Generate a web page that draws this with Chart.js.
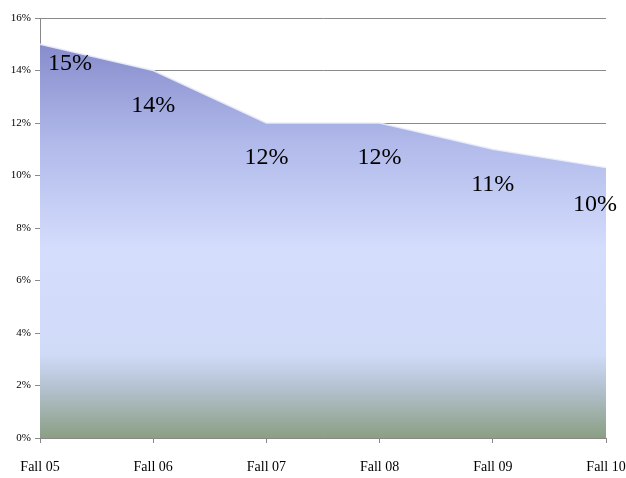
<!DOCTYPE html>
<html>
<head>
<meta charset="utf-8">
<script src="https://cdn.jsdelivr.net/npm/chart.js@4"></script>
<style>
  html, body { margin: 0; padding: 0; background: #fff; }
  #wrap { width: 626px; height: 478px; }
</style>
</head>
<body>
<div id="wrap"><canvas id="rate-chart"></canvas></div>
<script>
var categories = ["Fall 05", "Fall 06", "Fall 07", "Fall 08", "Fall 09", "Fall 10"];
var rates = [15, 14, 12, 12, 11, 10.3];
var rateLabels = ["15%", "14%", "12%", "12%", "11%", "10%"];
var yTicks = [0, 2, 4, 6, 8, 10, 12, 14, 16];

// area fill: purple-blue top, pale blue middle, greenish at bottom
function areaFill(ctx) {
    var area = ctx.chart.chartArea;
    if (!area) return '#c8d2f5';
    var g = ctx.chart.ctx.createLinearGradient(0, area.top, 0, area.bottom);
    g.addColorStop(0.00, '#7e82c3');
    g.addColorStop(0.07, '#888ecd');
    g.addColorStop(0.30, '#b1baea');
    g.addColorStop(0.55, '#d4ddfc');
    g.addColorStop(0.80, '#d0dbf8');
    g.addColorStop(0.87, '#b7c5d6');
    g.addColorStop(1.00, '#8b9f84');
    return g;
}

// data labels drawn below each point
var pointLabels = {
    id: 'pointLabels',
    afterDatasetsDraw: function(chart) {
        var c = chart.ctx;
        var pts = chart.getDatasetMeta(0).data;
        c.save();
        c.font = '24px "Liberation Serif", "DejaVu Serif", serif';
        c.fillStyle = '#000';
        c.textBaseline = 'middle';
        pts.forEach(function(p, i) {
            var x = p.x, y = p.y + 35;
            c.textAlign = 'center';
            if (i === 0) { c.textAlign = 'left'; x = p.x + 8; y = p.y + 19; }
            if (i === pts.length - 1) { x = p.x - 11; y = p.y + 37; }
            c.fillText(rateLabels[i], x, y);
        });
        c.restore();
    }
};

var rc = document.getElementById("rate-chart").getContext('2d');
var rateChart = new Chart(rc, {
    type: 'line',
    data: {
        labels: categories,
        datasets: [{
            data: rates,
            fill: 'origin',
            backgroundColor: areaFill,
            borderColor: 'rgba(235,237,250,0.9)',
            borderWidth: 1.5,
            tension: 0,
            pointRadius: 0
        }]
    },
    options: {
        responsive: true,
        maintainAspectRatio: false,
        animation: false,
        layout: { padding: { top: 18, right: 0, left: 0, bottom: 0 } },
        plugins: {
            legend: { display: false },
            tooltip: { enabled: false }
        },
        scales: {
            x: {
                offset: false,
                grid: { drawOnChartArea: false, drawTicks: true, tickLength: 5, color: '#888' },
                border: { color: '#888' },
                ticks: {
                    padding: 16,
                    maxRotation: 0,
                    autoSkip: false,
                    color: '#000',
                    font: { family: '"Liberation Serif", serif', size: 14 }
                },
                afterFit: function(s) { s.height = 40; s.paddingRight = 20; s.paddingLeft = 0; }
            },
            y: {
                min: 0,
                max: 16,
                afterBuildTicks: function(s) {
                    s.ticks = yTicks.map(function(v) { return { value: v }; });
                },
                grid: { color: '#8a8a8a', tickLength: 5 },
                border: { color: '#888' },
                ticks: {
                    padding: 4,
                    color: '#000',
                    font: { family: '"Liberation Serif", serif', size: 11 },
                    callback: function(v) { return v + '%'; }
                },
                afterFit: function(s) { s.width = 40; }
            }
        }
    },
    plugins: [pointLabels]
});
</script>
</body>
</html>
